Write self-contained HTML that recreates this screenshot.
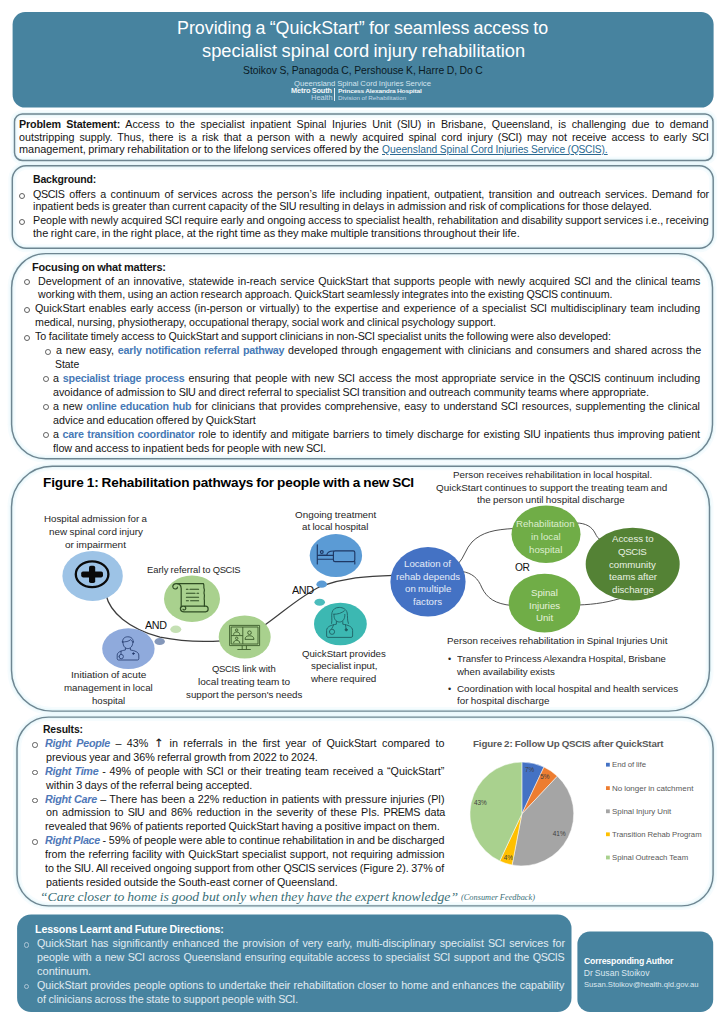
<!DOCTYPE html>
<html lang="en"><head><meta charset="utf-8"><title>QuickStart poster</title>
<style>
html,body{margin:0;padding:0;background:#fff;}
body{width:724px;height:1024px;position:relative;overflow:hidden;font-family:"Liberation Sans",sans-serif;}
.bx{position:absolute;box-sizing:border-box;}
.m,.t{word-spacing:-0.04em;}
.c{letter-spacing:-0.035em;margin-right:0.03em;}
.t{position:absolute;white-space:nowrap;transform-origin:0 0;}
.j{text-align:justify;text-align-last:justify;}
.lk{color:#2a6a92;text-decoration:underline;}
.hl{color:#4679b6;font-weight:bold;letter-spacing:-0.2px;}
b{letter-spacing:-0.15px;}
.ar{font-family:"DejaVu Sans",sans-serif;font-size:1.12em;line-height:0;}
.rt{color:#4f78b8;font-weight:bold;font-style:italic;letter-spacing:-0.27px;}
.bl{position:absolute;border-radius:50%;box-sizing:border-box;}
svg{position:absolute;left:0;top:0;overflow:visible;}
svg text{font-family:"Liberation Sans",sans-serif;}
</style></head>
<body>
<svg width="724" height="1024" viewBox="0 0 724 1024"><rect x="12.60" y="12.00" width="701.00" height="95.60" rx="12.5" fill="#47839f"/></svg>
<div class="t" style="left:177.38px;top:15px;font-size:18.7px;line-height:25px;color:#fff;transform:scaleX(0.9537);">Providing a “QuickStart” for seamless access to</div>
<div class="t" style="left:201.58px;top:38px;font-size:18.7px;line-height:25px;color:#fff;transform:scaleX(0.9781);">specialist spinal cord injury rehabilitation</div>
<div class="t" style="left:242.61px;top:62px;font-size:11.2px;line-height:16px;color:#0a1a24;transform:scaleX(0.9253);">Stoikov S, Panagoda C, Pershouse K, Harre D, Do C</div>
<div class="t" style="left:294.18px;top:79px;font-size:6.9px;line-height:10px;color:#d3e4ee;transform:scaleX(1.1136);">Queensland Spinal Cord Injuries Service</div>
<div class="t" style="left:290.86px;top:86px;font-size:6.6px;line-height:10px;color:#f2f7fa;transform:scaleX(1.1168);"><b>Metro South</b></div>
<div class="t" style="left:310.5px;top:93px;font-size:6.6px;line-height:10px;color:#c3d9e6;transform:scaleX(1.1316);">Health</div>
<div class="bx" style="left:333.7px;top:88.2px;width:0.9px;height:12.8px;background:#e4eef4;"></div>
<div class="t" style="left:337.6px;top:87px;font-size:5.6px;line-height:8px;color:#f2f7fa;transform:scaleX(1.1803);"><b>Princess Alexandra Hospital</b></div>
<div class="t" style="left:337.6px;top:94px;font-size:5.5px;line-height:8px;color:#c3d9e6;transform:scaleX(1.14);">Division of Rehabilitation</div>
<svg width="724" height="1024" viewBox="0 0 724 1024"><rect x="14.50" y="113.90" width="698.50" height="46.50" rx="7.8" fill="#fff" stroke="#c9eef6" stroke-opacity="0.16" stroke-width="8"/><rect x="14.50" y="113.90" width="698.50" height="46.50" rx="7.8" fill="none" stroke="#c9eef6" stroke-opacity="0.28" stroke-width="4"/><rect x="14.50" y="113.90" width="698.50" height="46.50" rx="7.8" fill="none" stroke="#6e8591" stroke-width="1.45"/></svg>
<div class="t  j" style="left:19.14px;top:118px;font-size:10.2px;line-height:14px;color:#151515;width:654.8px;transform:scaleX(1.0531);"><b>Problem Statement:</b> Access to the specialist inpatient Spinal Injuries Unit (<span class="c">SIU</span>) in Brisbane, Queensland, is challenging due to demand</div>
<div class="t  j" style="left:18.93px;top:131px;font-size:10.2px;line-height:14px;color:#151515;width:655.1px;transform:scaleX(1.0531);">outstripping supply. Thus, there is a risk that a person with a newly acquired spinal cord injury (<span class="c">SCI</span>) may not receive access to early <span class="c">SCI</span></div>
<div class="t" style="left:19.0px;top:143px;font-size:10.2px;line-height:14px;color:#151515;transform:scaleX(1.0708);">management, primary rehabilitation or to the lifelong services offered by the</div>
<div class="t" style="left:381.53px;top:143px;font-size:10.21px;line-height:14px;color:#151515;transform:scaleX(1.0055);"><span class="lk">Queensland Spinal Cord Injuries Service (<span class="c">QSCIS</span>).</span></div>
<svg width="724" height="1024" viewBox="0 0 724 1024"><rect x="12.30" y="165.80" width="700.90" height="82.50" rx="13.8" fill="#fff" stroke="#c9eef6" stroke-opacity="0.16" stroke-width="8"/><rect x="12.30" y="165.80" width="700.90" height="82.50" rx="13.8" fill="none" stroke="#c9eef6" stroke-opacity="0.28" stroke-width="4"/><rect x="12.30" y="165.80" width="700.90" height="82.50" rx="13.8" fill="none" stroke="#6e8591" stroke-width="1.45"/></svg>
<div class="t" style="left:32.55px;top:173px;font-size:10.2px;line-height:14px;color:#151515;transform:scaleX(1.0307);"><b>Background:</b></div>
<div class="bl" style="left:18.8px;top:192.6px;width:6.0px;height:6.0px;border:0.9px solid #606060;"></div>
<div class="t  j" style="left:32.58px;top:188px;font-size:10.2px;line-height:14px;color:#151515;width:642.11px;transform:scaleX(1.0531);"><span class="c">QSCIS</span> offers a continuum of services across the person’s life including inpatient, outpatient, transition and outreach services. Demand for</div>
<div class="t" style="left:32.63px;top:200px;font-size:10.2px;line-height:14px;color:#151515;transform:scaleX(1.0543);">inpatient beds is greater than current capacity of the <span class="c">SIU</span> resulting in delays in admission and risk of complications for those delayed.</div>
<div class="bl" style="left:18.8px;top:219.0px;width:6.0px;height:6.0px;border:0.9px solid #606060;"></div>
<div class="t  j" style="left:32.52px;top:214px;font-size:10.2px;line-height:14px;color:#151515;width:641.71px;transform:scaleX(1.0531);">People with newly acquired <span class="c">SCI</span> require early and ongoing access to specialist health, rehabilitation and disability support services i.e., receiving</div>
<div class="t" style="left:32.55px;top:227px;font-size:10.2px;line-height:14px;color:#151515;transform:scaleX(1.077);">the right care, in the right place, at the right time as they make multiple transitions throughout their life.</div>
<svg width="724" height="1024" viewBox="0 0 724 1024"><rect x="11.60" y="253.60" width="700.90" height="205.10" rx="34.2" fill="#fff" stroke="#c9eef6" stroke-opacity="0.16" stroke-width="8"/><rect x="11.60" y="253.60" width="700.90" height="205.10" rx="34.2" fill="none" stroke="#c9eef6" stroke-opacity="0.28" stroke-width="4"/><rect x="11.60" y="253.60" width="700.90" height="205.10" rx="34.2" fill="none" stroke="#6e8591" stroke-width="1.45"/></svg>
<div class="t" style="left:32.24px;top:261px;font-size:10.2px;line-height:14px;color:#151515;transform:scaleX(1.0738);"><b>Focusing on what matters:</b></div>
<div class="bl" style="left:24.1px;top:279.3px;width:6.0px;height:6.0px;border:0.9px solid #606060;"></div>
<div class="t  j" style="left:37.62px;top:275px;font-size:10.2px;line-height:14px;color:#151515;width:629.08px;transform:scaleX(1.0531);">Development of an innovative, statewide in-reach service QuickStart that supports people with newly acquired <span class="c">SCI</span> and the clinical teams</div>
<div class="t" style="left:37.8px;top:288px;font-size:10.2px;line-height:14px;color:#151515;transform:scaleX(1.0433);">working with them, using an action research approach. QuickStart seamlessly integrates into the existing <span class="c">QSCIS</span> continuum.</div>
<div class="bl" style="left:24.1px;top:306.9px;width:6.0px;height:6.0px;border:0.9px solid #606060;"></div>
<div class="t  j" style="left:34.88px;top:302px;font-size:10.2px;line-height:14px;color:#151515;width:631.62px;transform:scaleX(1.0531);">QuickStart enables early access (in-person or virtually) to the expertise and experience of a specialist <span class="c">SCI</span> multidisciplinary team including</div>
<div class="t" style="left:34.9px;top:316px;font-size:10.2px;line-height:14px;color:#151515;transform:scaleX(1.0477);">medical, nursing, physiotherapy, occupational therapy, social work and clinical psychology support.</div>
<div class="bl" style="left:24.1px;top:334.8px;width:6.0px;height:6.0px;border:0.9px solid #606060;"></div>
<div class="t" style="left:35.03px;top:330px;font-size:10.2px;line-height:14px;color:#151515;transform:scaleX(1.0504);">To facilitate timely access to QuickStart and support clinicians in non-<span class="c">SCI</span> specialist units the following were also developed:</div>
<div class="bl" style="left:45.1px;top:348.8px;width:5.8px;height:5.8px;border:0.9px solid #606060;"></div>
<div class="t  j" style="left:55.58px;top:344px;font-size:10.2px;line-height:14px;color:#151515;width:612.68px;transform:scaleX(1.0531);">a new easy, <span class="hl">early notification referral pathway</span> developed through engagement with clinicians and consumers and shared across the</div>
<div class="t" style="left:55.49px;top:358px;font-size:10.2px;line-height:14px;color:#151515;transform:scaleX(1.0214);">State</div>
<div class="bl" style="left:43.0px;top:376.3px;width:5.8px;height:5.8px;border:0.9px solid #606060;"></div>
<div class="t  j" style="left:53.28px;top:372px;font-size:10.2px;line-height:14px;color:#151515;width:614.56px;transform:scaleX(1.0531);">a <span class="hl">specialist triage process</span> ensuring that people with new <span class="c">SCI</span> access the most appropriate service in the <span class="c">QSCIS</span> continuum including</div>
<div class="t" style="left:53.28px;top:386px;font-size:10.2px;line-height:14px;color:#151515;transform:scaleX(1.0557);">avoidance of admission to <span class="c">SIU</span> and direct referral to specialist <span class="c">SCI</span> transition and outreach community teams where appropriate.</div>
<div class="bl" style="left:43.0px;top:404.3px;width:5.8px;height:5.8px;border:0.9px solid #606060;"></div>
<div class="t  j" style="left:53.28px;top:400px;font-size:10.2px;line-height:14px;color:#151515;width:614.39px;transform:scaleX(1.0531);">a new <span class="hl">online education hub</span> for clinicians that provides comprehensive, easy to understand <span class="c">SCI</span> resources, supplementing the clinical</div>
<div class="t" style="left:53.28px;top:414px;font-size:10.2px;line-height:14px;color:#151515;transform:scaleX(1.0531);">advice and education offered by QuickStart</div>
<div class="bl" style="left:43.0px;top:432.3px;width:5.8px;height:5.8px;border:0.9px solid #606060;"></div>
<div class="t  j" style="left:53.28px;top:428px;font-size:10.2px;line-height:14px;color:#151515;width:614.47px;transform:scaleX(1.0531);">a <span class="hl">care transition coordinator</span> role to identify and mitigate barriers to timely discharge for existing <span class="c">SIU</span> inpatients thus improving patient</div>
<div class="t" style="left:53.23px;top:442px;font-size:10.2px;line-height:14px;color:#151515;transform:scaleX(1.0565);">flow and access to inpatient beds for people with new <span class="c">SCI</span>.</div>
<svg width="724" height="1024" viewBox="0 0 724 1024"><rect x="11.50" y="466.30" width="698.00" height="244.80" rx="40.8" fill="#fff" stroke="#c9eef6" stroke-opacity="0.16" stroke-width="8"/><rect x="11.50" y="466.30" width="698.00" height="244.80" rx="40.8" fill="none" stroke="#c9eef6" stroke-opacity="0.28" stroke-width="4"/><rect x="11.50" y="466.30" width="698.00" height="244.80" rx="40.8" fill="none" stroke="#6e8591" stroke-width="1.45"/></svg>
<svg width="724" height="1024" viewBox="0 0 724 1024"><path d="M106 595 C110 612 128 628.5 160 637.2 C185 642.2 205 642 222 640.8" fill="none" stroke="#3d3d3d" stroke-width="1.25"/><path d="M262 627 C283 612.5 300 596 321 586.2 C345 578 365 576 394 575.3" fill="none" stroke="#3d3d3d" stroke-width="1.25"/><path d="M458 564 C464 558 466 548 472 542 C482 532 495 529.5 514 528.5" fill="none" stroke="#3d3d3d" stroke-width="0.9"/><path d="M462 571.5 C472 573 478 578 482 588 C487 598 495 604 512 605.5" fill="none" stroke="#3d3d3d" stroke-width="0.9"/><path d="M576 523 C586 523 592 527 595 533 C597 537 598 538.5 601 540" fill="none" stroke="#3d3d3d" stroke-width="0.9"/><path d="M578 605 C595 604.5 610 602 625 597" fill="none" stroke="#3d3d3d" stroke-width="0.9"/><ellipse cx="92.6" cy="575.9" rx="30.2" ry="25.0" fill="#9dc3e6"/><ellipse cx="192" cy="598.8" rx="28" ry="23.2" fill="#a9d18e"/><ellipse cx="175.8" cy="629.3" rx="5.5" ry="3.7" fill="#c5e0b4"/><ellipse cx="159.7" cy="641.5" rx="5.2" ry="3.6" fill="#8497b9"/><ellipse cx="128.4" cy="648.7" rx="26.2" ry="20.4" fill="#8faadc"/><ellipse cx="244.7" cy="637.0" rx="26.0" ry="21.6" fill="#a9d18e"/><ellipse cx="335.9" cy="555.6" rx="26.2" ry="21.5" fill="#5b9bd5"/><ellipse cx="321.7" cy="584.2" rx="5.3" ry="3.6" fill="#5b9bd5"/><ellipse cx="319.7" cy="602.3" rx="5.3" ry="3.5" fill="#4bbcbc"/><ellipse cx="340.4" cy="624.0" rx="26.4" ry="21.3" fill="#3cb8b2"/><ellipse cx="428.0" cy="581.8" rx="37.6" ry="34.8" fill="#4472c4"/><ellipse cx="546.0" cy="534.2" rx="34.5" ry="28.8" fill="#70ad47"/><ellipse cx="544.6" cy="603.1" rx="35.9" ry="29.3" fill="#70ad47"/><ellipse cx="632.7" cy="564.1" rx="47.0" ry="36.3" fill="#548235"/><ellipse cx="92.1" cy="574.3" rx="16.3" ry="12.9" fill="none" stroke="#0a0a0a" stroke-width="2.3"/><rect x="81.2" y="571.4" width="21.8" height="6" rx="1.8" fill="#0a0a0a"/><rect x="89.0" y="565.8" width="6.2" height="17.2" rx="1.8" fill="#0a0a0a"/><g fill="none" stroke="#2f4d24" stroke-width="1.2" stroke-linecap="round" stroke-linejoin="round"><path d="M181.2 606.2V588.4C181.2 584.6 178.6 583.4 176 583.6C173 583.8 172 586.6 173.4 588.2C174.8 589.6 177.6 589 177.4 587.2"/><path d="M177 583.6H203.4C204.6 585.6 203.2 587 204.2 589C205 590.6 203.4 592 204.2 594C205 596 203.6 598 204.4 600.4V606.2"/><path d="M182 606.2H205.6C209 606.4 209 611.6 205.6 611.8H184C180 611.8 179.4 607.4 182 606.4C184.6 605.6 186.8 607.6 185.4 609.4C184.6 610.2 183.4 610 183 609.2"/><path d="M186.4 589.3H188M190 589.3H198.6M186.4 593.2H195M197 593.2H198.6M186.4 597.2H198.6M186.4 600.8H188.4M190.6 600.8H198.6" stroke-width="1.1"/></g><g fill="none" stroke="#22386b" stroke-width="0.8" stroke-linecap="round" stroke-linejoin="round"><path d="M122.6 642.4C122.2 638.6 124.6 636.8 127.8 636.8C131.4 636.8 133.6 639 133.2 642.4"/><path d="M122.2 641.8C125.6 642.2 128.8 641.4 130.6 639.6C131.4 641 132.4 641.6 133.6 641.8"/><path d="M123 642.4C123 646.4 125.2 648.6 127.8 648.6C130.4 648.6 132.8 646.4 132.8 642.4"/><path d="M125.4 648.2V650C121 650.8 117.4 652 117.2 655V658.8C117.2 659.6 117.8 660 118.6 660H137.4C138.2 660 138.8 659.6 138.8 658.8V655C138.6 652 135 650.8 130.4 650V648.2"/><path d="M121 651.2V654.4M119 656.6A2.2 2.2 0 1 0 123.4 656.6A2.2 2.2 0 1 0 119 656.6"/><circle cx="133.4" cy="653.6" r="0.8" fill="#22386b"/></g><g fill="none" stroke="#3a5a2a" stroke-width="0.9" stroke-linejoin="round"><rect x="229.6" y="625.4" width="30" height="20.2"/><rect x="231.2" y="627" width="26.8" height="17"/><path d="M242.8 627V644M231.2 635.6H242.8M242.2 645.6V649.4M246.4 645.6V649.4M237.4 649.5H250.8"/><circle cx="236.7" cy="630.1" r="1.2"/><path d="M233.6 634.8C233.8 632.6 235 632 236.7 632C238.4 632 239.6 632.6 239.8 634.8"/><circle cx="236.7" cy="638.3" r="1.2"/><path d="M233.6 643.2C233.8 641 235 640.4 236.7 640.4C238.4 640.4 239.6 641 239.8 643.2"/><circle cx="249.5" cy="632.7" r="1.8"/><path d="M245 639.4C245.2 636.6 247 635.8 249.5 635.8C252 635.8 253.8 636.6 254 639.4Z"/></g><g fill="none" stroke="#1f3864" stroke-width="1.15" stroke-linecap="round" stroke-linejoin="round"><path d="M317.3 544.8V564M317.3 559.2H333.4M317.3 555.4H333.4M354.8 561.6V564"/><rect x="333.4" y="550.9" width="21.4" height="10.7" rx="1.6"/><circle cx="321.8" cy="552.1" r="1.4"/><path d="M319.6 555.2H326.6M326.8 555.2C327 552.6 329.4 551 333.4 551"/></g><g fill="none" stroke="#1d5c60" stroke-width="0.85" stroke-linecap="round" stroke-linejoin="round"><path d="M331.6 623.4C332.4 619.6 331.2 616 332 612.6C332.8 609.2 335.6 607.4 339.2 607.4C343 607.4 346.6 609.4 347.2 613C347.8 616.4 347 619.8 348.4 623.4"/><path d="M333.6 614.2C337.6 614.4 341.6 613.2 344.4 610.8"/><path d="M334 614.4C333.6 619 336 622 339.4 622C342.8 622 345.2 619 344.8 614.4"/><path d="M336.4 621.6V624.2C331.4 625 326.8 626.4 326.6 630.4V636C326.6 636.8 327.2 637.4 328 637.4H351.2C352 637.4 352.6 636.8 352.6 636V630.4C352.4 626.4 347.8 625 342.8 624.2V621.6"/><path d="M333.6 624.8C333 626.2 332.4 627.6 331.8 628.6M329.4 631.8A2.6 2.6 0 1 0 334.6 631.8A2.6 2.6 0 1 0 329.4 631.8M345.4 624.8C345.8 626.4 346 627.8 346 628.8"/><circle cx="346.2" cy="629.8" r="1.1" fill="#1d5c60"/></g></svg>
<div class="t" style="left:42.58px;top:474px;font-size:13.3px;line-height:18px;color:#000;transform:scaleX(1.0231);"><b>Figure 1: Rehabilitation pathways for people with a new <span class="c">SCI</span></b></div>
<div class="t" style="left:44.17px;top:513px;font-size:9.3px;line-height:13px;color:#262626;transform:scaleX(1.0502);">Hospital admission for a</div>
<div class="t" style="left:48.79px;top:526px;font-size:9.3px;line-height:13px;color:#262626;transform:scaleX(1.0632);">new spinal cord injury</div>
<div class="t" style="left:64.98px;top:539px;font-size:9.3px;line-height:13px;color:#262626;transform:scaleX(1.0804);">or impairment</div>
<div class="t" style="left:147.16px;top:564px;font-size:9.3px;line-height:13px;color:#262626;transform:scaleX(1.0099);">Early referral to <span class="c">QSCIS</span></div>
<div class="t" style="left:145.22px;top:617px;font-size:11.4px;line-height:16px;color:#111;transform:scaleX(0.9402);"><span class="c">AND</span></div>
<div class="t" style="left:291.82px;top:582px;font-size:11.4px;line-height:16px;color:#111;transform:scaleX(0.9535);"><span class="c">AND</span></div>
<div class="t" style="left:70.61px;top:669px;font-size:9.3px;line-height:13px;color:#262626;transform:scaleX(1.0829);">Initiation of acute</div>
<div class="t" style="left:64.29px;top:682px;font-size:9.3px;line-height:13px;color:#262626;transform:scaleX(1.0436);">management in local</div>
<div class="t" style="left:92.3px;top:695px;font-size:9.3px;line-height:13px;color:#262626;transform:scaleX(1.0375);">hospital</div>
<div class="t" style="left:211.71px;top:663px;font-size:9.3px;line-height:13px;color:#262626;transform:scaleX(1.0198);"><span class="c">QSCIS</span> link with</div>
<div class="t" style="left:197.83px;top:676px;font-size:9.3px;line-height:13px;color:#262626;transform:scaleX(1.082);">local treating team to</div>
<div class="t" style="left:185.71px;top:689px;font-size:9.3px;line-height:13px;color:#262626;transform:scaleX(1.051);">support the person's needs</div>
<div class="t" style="left:295.1px;top:509px;font-size:9.3px;line-height:13px;color:#262626;transform:scaleX(1.0612);">Ongoing treatment</div>
<div class="t" style="left:302.32px;top:521px;font-size:9.3px;line-height:13px;color:#262626;transform:scaleX(1.048);">at local hospital</div>
<div class="t" style="left:302.3px;top:648px;font-size:9.3px;line-height:13px;color:#262626;transform:scaleX(1.0379);">QuickStart provides</div>
<div class="t" style="left:311.11px;top:660px;font-size:9.3px;line-height:13px;color:#262626;transform:scaleX(1.0518);">specialist input,</div>
<div class="t" style="left:311.26px;top:673px;font-size:9.3px;line-height:13px;color:#262626;transform:scaleX(1.06);">where required</div>
<div class="t" style="left:452.65px;top:469px;font-size:9.3px;line-height:13px;color:#262626;transform:scaleX(1.055);">Person receives rehabilitation in local hospital.</div>
<div class="t" style="left:435.7px;top:482px;font-size:9.3px;line-height:13px;color:#262626;transform:scaleX(1.0628);">QuickStart continues to support the treating team and</div>
<div class="t" style="left:477.32px;top:494px;font-size:9.3px;line-height:13px;color:#262626;transform:scaleX(1.0585);">the person until hospital discharge</div>
<div class="t" style="left:404.14px;top:558px;font-size:9.3px;line-height:13px;color:#e4ecf8;transform:scaleX(1.04);">Location of</div>
<div class="t" style="left:395.84px;top:571px;font-size:9.3px;line-height:13px;color:#e4ecf8;transform:scaleX(1.04);">rehab depends</div>
<div class="t" style="left:404.69px;top:583px;font-size:9.3px;line-height:13px;color:#e4ecf8;transform:scaleX(1.04);">on multiple</div>
<div class="t" style="left:413.39px;top:596px;font-size:9.3px;line-height:13px;color:#e4ecf8;transform:scaleX(1.04);">factors</div>
<div class="t" style="left:516.42px;top:518px;font-size:9.3px;line-height:13px;color:#dcedcd;transform:scaleX(1.04);">Rehabilitation</div>
<div class="t" style="left:531.05px;top:531px;font-size:9.3px;line-height:13px;color:#dcedcd;transform:scaleX(1.04);">in local</div>
<div class="t" style="left:529.26px;top:544px;font-size:9.3px;line-height:13px;color:#dcedcd;transform:scaleX(1.04);">hospital</div>
<div class="t" style="left:531.0px;top:587px;font-size:9.3px;line-height:13px;color:#e6f2dc;transform:scaleX(1.04);">Spinal</div>
<div class="t" style="left:528.93px;top:600px;font-size:9.3px;line-height:13px;color:#e6f2dc;transform:scaleX(1.04);">Injuries</div>
<div class="t" style="left:535.8px;top:612px;font-size:9.3px;line-height:13px;color:#e6f2dc;transform:scaleX(1.04);">Unit</div>
<div class="t" style="left:611.87px;top:533px;font-size:9.3px;line-height:13px;color:#e9f1e3;transform:scaleX(1.04);">Access to</div>
<div class="t" style="left:618.18px;top:546px;font-size:9.3px;line-height:13px;color:#e9f1e3;transform:scaleX(1.04);"><span class="c">QSCIS</span></div>
<div class="t" style="left:609.31px;top:559px;font-size:9.3px;line-height:13px;color:#e9f1e3;transform:scaleX(1.04);">community</div>
<div class="t" style="left:608.84px;top:571px;font-size:9.3px;line-height:13px;color:#e9f1e3;transform:scaleX(1.04);">teams after</div>
<div class="t" style="left:611.79px;top:584px;font-size:9.3px;line-height:13px;color:#e9f1e3;transform:scaleX(1.04);">discharge</div>
<div class="t" style="left:515.29px;top:559px;font-size:11.4px;line-height:16px;color:#111;transform:scaleX(0.8955);"><span class="c">OR</span></div>
<div class="t" style="left:446.65px;top:635px;font-size:9.3px;line-height:13px;color:#262626;transform:scaleX(1.0512);">Person receives rehabilitation in Spinal Injuries Unit</div>
<div class="t" style="left:448.01px;top:653px;font-size:9px;line-height:13px;color:#262626;">•</div>
<div class="t" style="left:456.81px;top:653px;font-size:9.3px;line-height:13px;color:#262626;transform:scaleX(1.0294);">Transfer to Princess Alexandra Hospital, Brisbane</div>
<div class="t" style="left:456.86px;top:666px;font-size:9.3px;line-height:13px;color:#262626;transform:scaleX(1.0489);">when availability exists</div>
<div class="t" style="left:448.01px;top:683px;font-size:9px;line-height:13px;color:#262626;">•</div>
<div class="t" style="left:456.69px;top:683px;font-size:9.3px;line-height:13px;color:#262626;transform:scaleX(1.0607);">Coordination with local hospital and health services</div>
<div class="t" style="left:456.66px;top:695px;font-size:9.3px;line-height:13px;color:#262626;transform:scaleX(1.0539);">for hospital discharge</div>
<svg width="724" height="1024" viewBox="0 0 724 1024"><rect x="17.00" y="717.10" width="696.10" height="188.80" rx="31.5" fill="#fff" stroke="#c9eef6" stroke-opacity="0.16" stroke-width="8"/><rect x="17.00" y="717.10" width="696.10" height="188.80" rx="31.5" fill="none" stroke="#c9eef6" stroke-opacity="0.28" stroke-width="4"/><rect x="17.00" y="717.10" width="696.10" height="188.80" rx="31.5" fill="none" stroke="#6e8591" stroke-width="1.45"/></svg>
<div class="t" style="left:42.56px;top:723px;font-size:10.3px;line-height:14px;color:#151515;transform:scaleX(1.0113);"><b>Results:</b></div>
<div class="bl" style="left:32.3px;top:741.98px;width:5.6px;height:5.6px;border:0.9px solid #606060;"></div>
<div class="t  j" style="left:45.43px;top:737px;font-size:10.3px;line-height:14px;color:#151515;width:382.24px;transform:scaleX(1.045);"><span class="rt">Right People</span> – 43% <span class="ar">↑</span> in referrals in the first year of QuickStart compared to</div>
<div class="t" style="left:45.5px;top:751px;font-size:10.3px;line-height:14px;color:#151515;transform:scaleX(1.045);">previous year and 36% referral growth from 2022 to 2024.</div>
<div class="bl" style="left:32.3px;top:769.74px;width:5.6px;height:5.6px;border:0.9px solid #606060;"></div>
<div class="t  j" style="left:45.43px;top:765px;font-size:10.3px;line-height:14px;color:#151515;width:382.18px;transform:scaleX(1.045);"><span class="rt">Right Time</span> - 49% of people with <span class="c">SCI</span> or their treating team received a “QuickStart”</div>
<div class="t" style="left:45.6px;top:779px;font-size:10.3px;line-height:14px;color:#151515;transform:scaleX(1.051);">within 3 days of the referral being accepted.</div>
<div class="bl" style="left:32.3px;top:797.5px;width:5.6px;height:5.6px;border:0.9px solid #606060;"></div>
<div class="t  j" style="left:45.43px;top:793px;font-size:10.3px;line-height:14px;color:#151515;width:382.3px;transform:scaleX(1.045);"><span class="rt">Right Care</span> – There has been a 22% reduction in patients with pressure injuries (<span class="c">PI</span>)</div>
<div class="t  j" style="left:45.53px;top:806px;font-size:10.3px;line-height:14px;color:#151515;width:382.18px;transform:scaleX(1.045);">on admission to <span class="c">SIU</span> and 86% reduction in the severity of these PIs. <span class="c">PREMS</span> data</div>
<div class="t" style="left:45.49px;top:820px;font-size:10.3px;line-height:14px;color:#151515;transform:scaleX(1.049);">revealed that 96% of patients reported QuickStart having a positive impact on them.</div>
<div class="bl" style="left:32.3px;top:839.14px;width:5.6px;height:5.6px;border:0.9px solid #606060;"></div>
<div class="t  j" style="left:45.44px;top:834px;font-size:10.3px;line-height:14px;color:#151515;width:382.8px;transform:scaleX(1.0437);"><span class="rt">Right Place</span> - 59% of people were able to continue rehabilitation in and be discharged</div>
<div class="t  j" style="left:45.43px;top:848px;font-size:10.3px;line-height:14px;color:#151515;width:382.4px;transform:scaleX(1.045);">from the referring facility with QuickStart specialist support, not requiring admission</div>
<div class="t  j" style="left:45.46px;top:862px;font-size:10.3px;line-height:14px;color:#151515;width:383.45px;transform:scaleX(1.0411);">to the <span class="c">SIU</span>. All received ongoing support from other <span class="c">QSCIS</span> services (Figure 2). 37% of</div>
<div class="t" style="left:45.5px;top:876px;font-size:10.3px;line-height:14px;color:#151515;transform:scaleX(1.0404);">patients resided outside the South-east corner of Queensland.</div>
<div class="t" style="left:39.75px;top:888px;font-size:13.4px;line-height:18px;color:#3a6f78;font-family:'Liberation Serif', serif;transform:scaleX(1.0229);"><i>“Care closer to home is good but only when they have the expert knowledge”</i></div>
<div class="t" style="left:460.53px;top:891px;font-size:8.6px;line-height:12px;color:#3a6f78;font-family:'Liberation Serif', serif;transform:scaleX(0.9708);"><i>(Consumer Feedback)</i></div>
<svg width="724" height="1024" viewBox="0 0 724 1024"><path d="M521.85 814.0L521.85 762.10A51.9 51.9 0 0 1 543.95 767.04Z" fill="#4472c4" stroke="#fff" stroke-width="0.5" stroke-linejoin="round"/><path d="M521.85 814.0L543.95 767.04A51.9 51.9 0 0 1 557.38 776.17Z" fill="#ed7d31" stroke="#fff" stroke-width="0.5" stroke-linejoin="round"/><path d="M521.85 814.0L557.38 776.17A51.9 51.9 0 0 1 512.12 864.98Z" fill="#a5a5a5" stroke="#fff" stroke-width="0.5" stroke-linejoin="round"/><path d="M521.85 814.0L512.12 864.98A51.9 51.9 0 0 1 499.75 860.96Z" fill="#ffc000" stroke="#fff" stroke-width="0.5" stroke-linejoin="round"/><path d="M521.85 814.0L499.75 860.96A51.9 51.9 0 0 1 521.85 762.10Z" fill="#a9d18e" stroke="#fff" stroke-width="0.5" stroke-linejoin="round"/><rect x="606" y="762.80" width="3.8" height="3.8" fill="#4472c4"/><rect x="606" y="786.20" width="3.8" height="3.8" fill="#ed7d31"/><rect x="606" y="809.40" width="3.8" height="3.8" fill="#a5a5a5"/><rect x="606" y="832.40" width="3.8" height="3.8" fill="#ffc000"/><rect x="606" y="855.60" width="3.8" height="3.8" fill="#a9d18e"/></svg>
<div class="t" style="left:473.47px;top:738px;font-size:9.3px;line-height:13px;color:#595959;transform:scaleX(1.0522);"><b>Figure 2: Follow Up <span class="c">QSCIS</span> after QuickStart</b></div>
<div class="t" style="left:612.41px;top:760px;font-size:7.2px;line-height:10px;color:#595959;transform:scaleX(1.085);">End of life</div>
<div class="t" style="left:612.48px;top:784px;font-size:7.2px;line-height:10px;color:#595959;transform:scaleX(1.1139);">No longer in catchment</div>
<div class="t" style="left:612.27px;top:807px;font-size:7.2px;line-height:10px;color:#595959;transform:scaleX(1.1021);">Spinal Injury Unit</div>
<div class="t" style="left:612.22px;top:830px;font-size:7.2px;line-height:10px;color:#595959;transform:scaleX(1.0734);">Transition Rehab Program</div>
<div class="t" style="left:612.28px;top:853px;font-size:7.2px;line-height:10px;color:#595959;transform:scaleX(1.0818);">Spinal Outreach Team</div>
<div class="t" style="left:525.01px;top:765px;font-size:6.4px;line-height:9px;color:#404040;">7%</div>
<div class="t" style="left:540.13px;top:772px;font-size:6.4px;line-height:9px;color:#404040;">5%</div>
<div class="t" style="left:552.79px;top:829px;font-size:6.4px;line-height:9px;color:#404040;">41%</div>
<div class="t" style="left:503.79px;top:853px;font-size:6.4px;line-height:9px;color:#404040;">4%</div>
<div class="t" style="left:473.89px;top:798px;font-size:6.4px;line-height:9px;color:#404040;">43%</div>
<svg width="724" height="1024" viewBox="0 0 724 1024"><rect x="17.10" y="914.40" width="554.40" height="97.60" rx="14.0" fill="#47839f"/></svg>
<svg width="724" height="1024" viewBox="0 0 724 1024"><rect x="577.40" y="931.50" width="135.80" height="80.50" rx="12.5" fill="#47839f"/></svg>
<div class="t" style="left:35.15px;top:923px;font-size:10.2px;line-height:14px;color:#fff;transform:scaleX(1.0506);"><b>Lessons Learnt and Future Directions:</b></div>
<div class="bl" style="left:24.3px;top:942.4px;width:5.2px;height:5.2px;border:0.8px solid #adc5d5;"></div>
<div class="t  j" style="left:37.18px;top:937px;font-size:10.2px;line-height:14px;color:#e1ebf2;width:501.53px;transform:scaleX(1.0531);">QuickStart has significantly enhanced the provision of very early, multi-disciplinary specialist <span class="c">SCI</span> services for</div>
<div class="t  j" style="left:37.2px;top:951px;font-size:10.2px;line-height:14px;color:#e1ebf2;width:500.99px;transform:scaleX(1.0531);">people with a new <span class="c">SCI</span> across Queensland ensuring equitable access to specialist <span class="c">SCI</span> support and the <span class="c">QSCIS</span></div>
<div class="t" style="left:37.22px;top:965px;font-size:10.2px;line-height:14px;color:#e1ebf2;transform:scaleX(1.0873);">continuum.</div>
<div class="bl" style="left:24.3px;top:984.0px;width:5.2px;height:5.2px;border:0.8px solid #adc5d5;"></div>
<div class="t  j" style="left:37.18px;top:979px;font-size:10.2px;line-height:14px;color:#e1ebf2;width:500.79px;transform:scaleX(1.0531);">QuickStart provides people options to undertake their rehabilitation closer to home and enhances the capability</div>
<div class="t" style="left:37.23px;top:993px;font-size:10.2px;line-height:14px;color:#e1ebf2;transform:scaleX(1.0527);">of clinicians across the state to support people with <span class="c">SCI</span>.</div>
<div class="t" style="left:583.71px;top:955px;font-size:8.6px;line-height:12px;color:#fff;transform:scaleX(1.0071);"><b>Corresponding Author</b></div>
<div class="t" style="left:583.72px;top:967px;font-size:8.6px;line-height:12px;color:#dbe8f0;">Dr Susan Stoikov</div>
<div class="t" style="left:583.68px;top:979px;font-size:7.5px;line-height:11px;color:#dbe8f0;transform:scaleX(1.0207);">Susan.Stoikov@health.qld.gov.au</div>
</body></html>
